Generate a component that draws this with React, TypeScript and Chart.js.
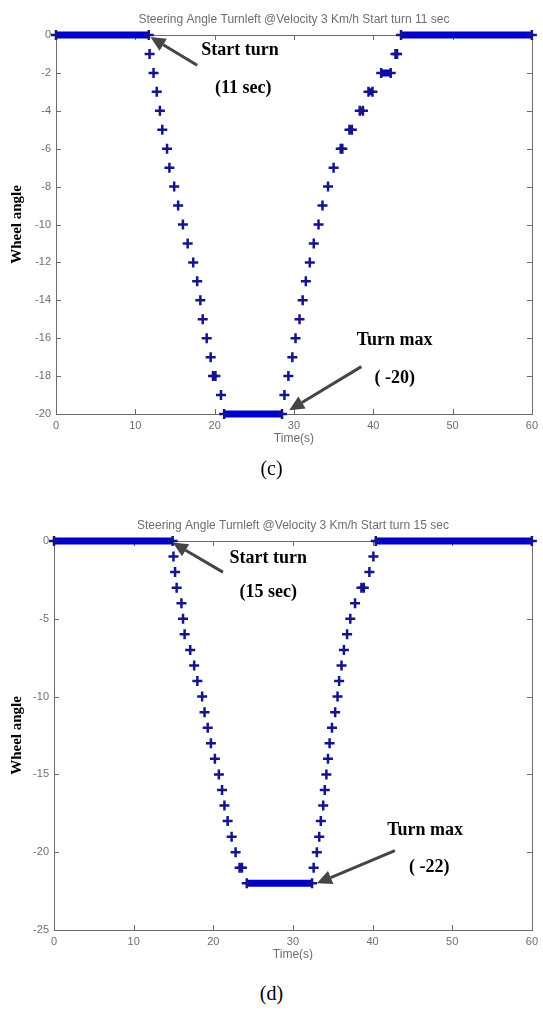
import React, { useEffect, useRef } from "react";
import { Chart, registerables } from "chart.js";
Chart.register(...registerables);

// ---------- shared ----------
const xTicks = [0, 10, 20, 30, 40, 50, 60];
const xLabel = "Time(s)";
const yLabel = "Wheel angle";

// ---------- chart (c) ----------
const cTitle = "Steering Angle Turnleft @Velocity 3 Km/h Start turn 11 sec";
const cYTicks = [0, -2, -4, -6, -8, -10, -12, -14, -16, -18, -20];
const cLevels = [0, -1, -2, -3, -4, -5, -6, -7, -8, -9, -10, -11, -12, -13, -14, -15, -16, -17, -18, -19, -20,
  -19, -18, -17, -16, -15, -14, -13, -12, -11, -10, -9, -8, -7, -6, -5, -4, -3, -2, -1, 0];
const cStart = [0, 11.8, 12.3, 12.7, 13.1, 13.4, 14.0, 14.3, 14.9, 15.4, 16.0, 16.6, 17.3, 17.8, 18.2, 18.5, 19.0, 19.5, 19.8, 20.8, 21.2,
  28.8, 29.3, 29.8, 30.2, 30.7, 31.1, 31.5, 32.0, 32.5, 33.1, 33.6, 34.3, 35.0, 35.9, 37.0, 38.3, 39.4, 41.0, 42.8, 43.5];
const cEnd = [11.7, 11.8, 12.3, 12.7, 13.1, 13.4, 14.0, 14.3, 14.9, 15.4, 16.0, 16.6, 17.3, 17.8, 18.2, 18.5, 19.0, 19.5, 20.1, 20.8, 28.5,
  28.8, 29.3, 29.8, 30.2, 30.7, 31.1, 31.5, 32.0, 32.5, 33.1, 33.6, 34.3, 35.0, 36.1, 37.3, 38.7, 39.9, 42.2, 43.0, 60];
const cNotes = [
  { text: "Start turn", x: 23.2, y: -0.8 },
  { text: "(11 sec)", x: 23.6, y: -2.8 },
  { text: "Turn max", x: 42.7, y: -16.1 },
  { text: "( -20)", x: 42.7, y: -18.1 },
];
const cArrows = [
  { x1: 17.8, y1: -1.6, x2: 11.9, y2: -0.1 },
  { x1: 38.5, y1: -17.5, x2: 29.4, y2: -19.8 },
];

// ---------- chart (d) ----------
const dTitle = "Steering Angle Turnleft @Velocity 3 Km/h Start turn 15 sec";
const dYTicks = [0, -5, -10, -15, -20, -25];
const dLevels = [0, -1, -2, -3, -4, -5, -6, -7, -8, -9, -10, -11, -12, -13, -14, -15, -16, -17, -18, -19, -20, -21, -22,
  -21, -20, -19, -18, -17, -16, -15, -14, -13, -12, -11, -10, -9, -8, -7, -6, -5, -4, -3, -2, -1, 0];
const dStart = [0, 15.0, 15.2, 15.4, 16.0, 16.2, 16.4, 17.1, 17.6, 18.0, 18.6, 18.9, 19.3, 19.7, 20.2, 20.7, 21.1, 21.4, 21.8, 22.3, 22.8, 23.3, 24.2,
  32.6, 33.0, 33.3, 33.5, 33.8, 34.0, 34.2, 34.4, 34.6, 34.9, 35.3, 35.6, 35.8, 36.1, 36.4, 36.8, 37.2, 37.8, 38.6, 39.6, 40.1, 40.4];
const dEnd = [14.9, 15.0, 15.2, 15.4, 16.0, 16.2, 16.4, 17.1, 17.6, 18.0, 18.6, 18.9, 19.3, 19.7, 20.2, 20.7, 21.1, 21.4, 21.8, 22.3, 22.8, 23.6, 32.4,
  32.6, 33.0, 33.3, 33.5, 33.8, 34.0, 34.2, 34.4, 34.6, 34.9, 35.3, 35.6, 35.8, 36.1, 36.4, 36.8, 37.2, 37.8, 38.9, 39.6, 40.1, 60];
const dNotes = [
  { text: "Start turn", x: 26.9, y: -1.1 },
  { text: "(15 sec)", x: 26.9, y: -3.3 },
  { text: "Turn max", x: 46.6, y: -18.6 },
  { text: "( -22)", x: 47.1, y: -21.0 },
];
const dArrows = [
  { x1: 21.2, y1: -2.0, x2: 14.9, y2: -0.1 },
  { x1: 42.8, y1: -19.9, x2: 33.0, y2: -22.0 },
];

type Spec = {
  title: string;
  yTicks: number[];
  levels: number[];
  start: number[];
  end: number[];
  notes: { text: string; x: number; y: number }[];
  arrows: { x1: number; y1: number; x2: number; y2: number }[];
  height: number;
  left: number;
  right: number;
  top: number;
  bottom: number;
};

const SANS = "'Liberation Sans', Arial, sans-serif";
const SERIF = "'Liberation Serif', 'Times New Roman', serif";

function buildData(levels: number[], start: number[], end: number[]) {
  const pts: { x: number; y: number | null }[] = [];
  levels.forEach((lv, i) => {
    pts.push({ x: start[i], y: lv });
    if (end[i] !== start[i]) pts.push({ x: end[i], y: lv });
    pts.push({ x: end[i], y: null });
  });
  return pts;
}

function decorPlugin(spec: Spec) {
  return {
    id: "matlabDecor",
    beforeDatasetsDraw(chart: any) {
      const { ctx, chartArea: a, scales } = chart;
      const xs = scales.x;
      const ys = scales.y;
      ctx.save();
      ctx.strokeStyle = "#6b6b6b";
      ctx.lineWidth = 1;
      ctx.strokeRect(Math.round(a.left) + 0.5, Math.round(a.top) + 0.5, Math.round(a.right - a.left), Math.round(a.bottom - a.top));
      ctx.beginPath();
      xTicks.forEach((v) => {
        const px = Math.round(xs.getPixelForValue(v)) + 0.5;
        ctx.moveTo(px, a.bottom);
        ctx.lineTo(px, a.bottom - 5);
        ctx.moveTo(px, a.top);
        ctx.lineTo(px, a.top + 5);
      });
      spec.yTicks.forEach((v) => {
        const py = Math.round(ys.getPixelForValue(v)) + 0.5;
        ctx.moveTo(a.left, py);
        ctx.lineTo(a.left + 5, py);
        ctx.moveTo(a.right, py);
        ctx.lineTo(a.right - 5, py);
      });
      ctx.stroke();
      ctx.restore();
    },
    afterDraw(chart: any) {
      const { ctx, chartArea: a, scales } = chart;
      const xs = scales.x;
      const ys = scales.y;
      const cx = (a.left + a.right) / 2;
      ctx.save();
      // title
      ctx.fillStyle = "#6e6e6e";
      ctx.font = `12px ${SANS}`;
      ctx.textAlign = "center";
      ctx.textBaseline = "middle";
      ctx.fillText(spec.title, cx, a.top - 15);
      // x label
      ctx.fillText(xLabel, cx, a.bottom + 25);
      // y label
      ctx.save();
      ctx.translate(17, (a.top + a.bottom) / 2);
      ctx.rotate(-Math.PI / 2);
      ctx.fillStyle = "#000";
      ctx.font = `bold 15px ${SERIF}`;
      ctx.fillText(yLabel, 0, 0);
      ctx.restore();
      // notes
      ctx.fillStyle = "#000";
      ctx.font = `bold 18px ${SERIF}`;
      spec.notes.forEach((n) => {
        ctx.fillText(n.text, xs.getPixelForValue(n.x), ys.getPixelForValue(n.y));
      });
      // arrows
      ctx.strokeStyle = "#454545";
      ctx.fillStyle = "#454545";
      ctx.lineWidth = 3;
      spec.arrows.forEach((ar) => {
        const x1 = xs.getPixelForValue(ar.x1);
        const y1 = ys.getPixelForValue(ar.y1);
        const x2 = xs.getPixelForValue(ar.x2);
        const y2 = ys.getPixelForValue(ar.y2);
        const ang = Math.atan2(y2 - y1, x2 - x1);
        const hl = 15;
        const hw = 7;
        const bx = x2 - hl * Math.cos(ang);
        const by = y2 - hl * Math.sin(ang);
        ctx.beginPath();
        ctx.moveTo(x1, y1);
        ctx.lineTo(bx, by);
        ctx.stroke();
        ctx.beginPath();
        ctx.moveTo(x2, y2);
        ctx.lineTo(bx + hw * Math.sin(ang), by - hw * Math.cos(ang));
        ctx.lineTo(bx - hw * Math.sin(ang), by + hw * Math.cos(ang));
        ctx.closePath();
        ctx.fill();
      });
      ctx.restore();
    },
  };
}

function MatlabChart({ spec }: { spec: Spec }) {
  const ref = useRef<HTMLCanvasElement>(null);
  useEffect(() => {
    if (!ref.current) return;
    const chart = new Chart(ref.current, {
      type: "scatter",
      data: {
        datasets: [
          {
            data: buildData(spec.levels, spec.start, spec.end) as any,
            showLine: true,
            spanGaps: false,
            borderColor: "#0000c8",
            borderWidth: 7,
            borderCapStyle: "butt",
            pointStyle: "cross",
            pointRadius: 5,
            pointBorderWidth: 2.5,
            pointBorderColor: "#14148c",
            pointBackgroundColor: "#14148c",
            clip: false,
          } as any,
        ],
      },
      options: {
        responsive: false,
        animation: false,
        devicePixelRatio: 1,
        events: [],
        layout: { padding: { left: 0, right: 543 - spec.right, top: spec.top, bottom: 0 } },
        plugins: { legend: { display: false }, tooltip: { enabled: false }, title: { display: false } },
        scales: {
          x: {
            type: "linear",
            min: 0,
            max: 60,
            afterBuildTicks: (s: any) => {
              s.ticks = xTicks.map((v) => ({ value: v }));
            },
            afterFit: (s: any) => {
              s.height = spec.height - spec.bottom;
            },
            grid: { display: false, drawTicks: false },
            border: { display: false },
            ticks: { color: "#6e6e6e", font: { size: 11, family: SANS }, padding: 5, maxRotation: 0 },
          },
          y: {
            type: "linear",
            min: spec.yTicks[spec.yTicks.length - 1],
            max: spec.yTicks[0],
            afterBuildTicks: (s: any) => {
              s.ticks = spec.yTicks.slice().reverse().map((v) => ({ value: v }));
            },
            afterFit: (s: any) => {
              s.width = spec.left;
            },
            grid: { display: false, drawTicks: false },
            border: { display: false },
            ticks: { color: "#6e6e6e", font: { size: 11, family: SANS }, padding: 5 },
          },
        },
      },
      plugins: [decorPlugin(spec)],
    } as any);
    return () => chart.destroy();
  }, [spec]);
  return <canvas ref={ref} width={543} height={spec.height} style={{ display: "block", width: 543, height: spec.height }} />;
}

const specC: Spec = {
  title: cTitle, yTicks: cYTicks, levels: cLevels, start: cStart, end: cEnd, notes: cNotes, arrows: cArrows,
  height: 460, left: 56, right: 533, top: 35, bottom: 414,
};
const specD: Spec = {
  title: dTitle, yTicks: dYTicks, levels: dLevels, start: dStart, end: dEnd, notes: dNotes, arrows: dArrows,
  height: 460, left: 54, right: 536, top: 41, bottom: 430,
};

export default function App() {
  return (
    <div style={{ position: "absolute", left: 0, top: 0, width: 543, height: 1017, background: "#fff" }}>
      <div style={{ position: "absolute", left: 0, top: 0 }}>
        <MatlabChart spec={specC} />
      </div>
      <div style={{ position: "absolute", left: 0, top: 456, width: 543, textAlign: "center", fontFamily: SERIF, fontSize: 20, lineHeight: "24px" }}>
        (c)
      </div>
      <div style={{ position: "absolute", left: 0, top: 500 }}>
        <MatlabChart spec={specD} />
      </div>
      <div style={{ position: "absolute", left: 0, top: 981, width: 543, textAlign: "center", fontFamily: SERIF, fontSize: 20, lineHeight: "24px" }}>
        (d)
      </div>
    </div>
  );
}
